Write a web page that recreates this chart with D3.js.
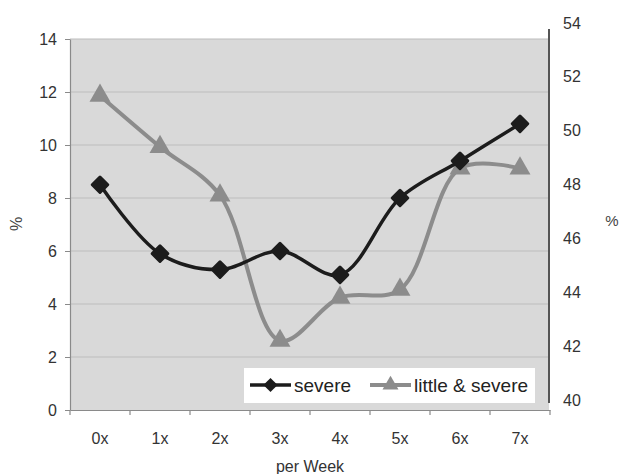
<!DOCTYPE html>
<html>
<head>
<meta charset="utf-8">
<script src="https://cdn.jsdelivr.net/npm/d3@7"></script>
<style>
  body { margin: 0; background: #fff; }
  svg { display: block; font-family: "Liberation Sans", Arial, sans-serif; }
</style>
</head>
<body>
<svg id="chart" width="621" height="474"></svg>
<script>
const categories = ["0x", "1x", "2x", "3x", "4x", "5x", "6x", "7x"];
const severe = [8.5, 5.9, 5.3, 6.0, 5.1, 8.0, 9.4, 10.8];
const littleSevere = [51.3, 49.4, 47.6, 42.2, 43.8, 44.1, 48.6, 48.6];
const leftTicks = [0, 2, 4, 6, 8, 10, 12, 14];
const rightTicks = [40, 42, 44, 46, 48, 50, 52, 54];
const seriesNames = ["severe", "little & severe"];

const svg = d3.select("#chart");
const L = 70, R = 550, T = 39, B = 410;

const x = d3.scaleBand().domain(categories).range([L, R]);
const yL = d3.scaleLinear().domain([0, 14]).range([B, T]);
const yR = d3.scaleLinear().domain([40, 54]).range([400, 23]);

// plot background
svg.append("rect").attr("x", L).attr("y", T).attr("width", R - L - 1).attr("height", B - T)
  .attr("fill", "#d9d9d9");

// gridlines
svg.append("g").selectAll("line").data(leftTicks.filter(d => d > 0)).join("line")
  .attr("x1", L).attr("x2", R - 1)
  .attr("y1", d => yL(d)).attr("y2", d => yL(d))
  .attr("stroke", "#bdbdbd").attr("stroke-width", 1.2);

// left axis
const gL = svg.append("g").attr("transform", `translate(${L},0)`)
  .call(d3.axisLeft(yL).tickValues(leftTicks).tickSize(5).tickSizeOuter(0).tickPadding(8));
gL.select(".domain").attr("stroke", "#8a8a8a").attr("stroke-width", 1.2);
gL.selectAll(".tick line").attr("stroke", "#8a8a8a");
gL.selectAll("text").attr("font-size", 16).attr("fill", "#333");

// bottom axis
const gB = svg.append("g").attr("transform", `translate(0,${B})`)
  .call(d3.axisBottom(x).tickSize(0).tickPadding(23));
gB.select(".domain").attr("stroke", "#8a8a8a").attr("stroke-width", 1.2);
gB.selectAll("text").attr("font-size", 16).attr("fill", "#333");
gB.append("g").selectAll("line").data(categories.concat(["end"])).join("line")
  .attr("x1", (d, i) => L + i * x.step()).attr("x2", (d, i) => L + i * x.step())
  .attr("y1", 0).attr("y2", 5).attr("stroke", "#8a8a8a").attr("stroke-width", 1.2);

// right axis
const gR = svg.append("g").attr("transform", `translate(${R + 13},0)`)
  .call(d3.axisRight(yR).tickValues(rightTicks).tickSize(0).tickPadding(0));
gR.select(".domain").remove();
gR.selectAll("text").attr("font-size", 16).attr("fill", "#333");
svg.append("line").attr("x1", R - 1).attr("x2", R - 1).attr("y1", 29).attr("y2", 403)
  .attr("stroke", "#555").attr("stroke-width", 2);

// axis titles
svg.append("text").attr("transform", "translate(22,224) rotate(-90)")
  .attr("text-anchor", "middle").attr("font-size", 16).attr("fill", "#444").text("%");
svg.append("text").attr("x", 612).attr("y", 226)
  .attr("text-anchor", "middle").attr("font-size", 15).attr("fill", "#444").text("%");
svg.append("text").attr("x", 310).attr("y", 472)
  .attr("text-anchor", "middle").attr("font-size", 16).attr("fill", "#333").text("per Week");

const cx = d => x(d) + x.bandwidth() / 2;

// little & severe (gray)
const lineR = d3.line().x((d, i) => cx(categories[i])).y(d => yR(d)).curve(d3.curveCatmullRom.alpha(0.5));
svg.append("path").attr("d", lineR(littleSevere)).attr("fill", "none")
  .attr("stroke", "#8c8c8c").attr("stroke-width", 4);
const tri = d3.symbol().type(d3.symbolTriangle).size(190);
svg.append("g").selectAll("path").data(littleSevere).join("path")
  .attr("d", tri).attr("transform", (d, i) => `translate(${cx(categories[i])},${yR(d)})`)
  .attr("fill", "#8c8c8c");

// severe (black)
const lineL = d3.line().x((d, i) => cx(categories[i])).y(d => yL(d)).curve(d3.curveCatmullRom.alpha(0.5));
svg.append("path").attr("d", lineL(severe)).attr("fill", "none")
  .attr("stroke", "#1c1c1c").attr("stroke-width", 3.5);
svg.append("g").selectAll("rect").data(severe).join("rect")
  .attr("x", -7).attr("y", -7).attr("width", 14).attr("height", 14).attr("rx", 1.5)
  .attr("transform", (d, i) => `translate(${cx(categories[i])},${yL(d)}) rotate(45)`)
  .attr("fill", "#1c1c1c");

// legend
const lg = svg.append("g");
lg.append("rect").attr("x", 244).attr("y", 368).attr("width", 291).attr("height", 35).attr("fill", "#fff");
const items = lg.selectAll("g").data(seriesNames).join("g")
  .attr("transform", (d, i) => `translate(${i === 0 ? 250 : 370},385)`);
items.append("line").attr("x1", 0).attr("x2", 41).attr("y1", 0).attr("y2", 0)
  .attr("stroke", (d, i) => i === 0 ? "#1c1c1c" : "#8c8c8c").attr("stroke-width", (d, i) => i === 0 ? 3.5 : 4);
items.each(function(d, i) {
  const g = d3.select(this);
  if (i === 0) {
    g.append("rect").attr("x", -5).attr("y", -5).attr("width", 10).attr("height", 10)
      .attr("transform", "translate(20.5,0) rotate(45)").attr("fill", "#1c1c1c");
  } else {
    g.append("path").attr("d", d3.symbol().type(d3.symbolTriangle).size(110)())
      .attr("transform", "translate(20.5,0)").attr("fill", "#8c8c8c");
  }
});
items.append("text").attr("x", 44).attr("y", 0).attr("dy", "0.35em")
  .attr("font-size", 19).attr("fill", "#222").text(d => d);
</script>
</body>
</html>
